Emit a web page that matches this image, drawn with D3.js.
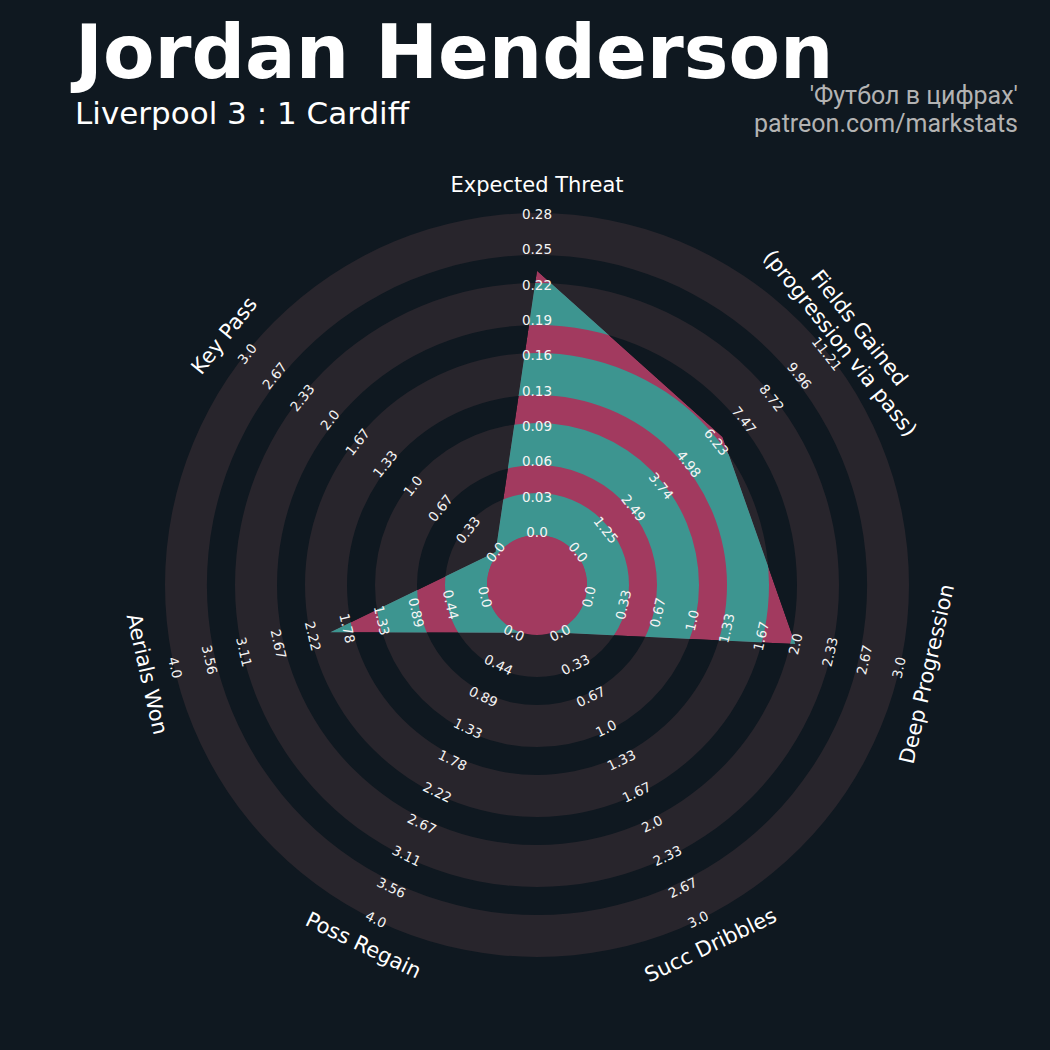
<!DOCTYPE html>
<html><head><meta charset="utf-8">
<script src="https://cdn.jsdelivr.net/npm/d3@7/dist/d3.min.js"></script>
<style>html,body{margin:0;padding:0;background:#0f1820;}</style>
</head><body><svg id="c" width="1050" height="1050"></svg>
<script>
// ---- data ----
const params = ["Expected Threat", "Fields Gained\n(progression via pass)", "Deep Progression", "Succ Dribbles", "Poss Regain", "Aerials Won", "Key Pass"];
const minRange = [0, 0, 0, 0, 0, 0, 0];
const maxRange = [0.28, 11.21, 3.0, 3.0, 4.0, 4.0, 3.0];
const values = [0.23, 6.5, 2.0, 0.0, 0.0, 2.0, 0.0];
const tickLabels = [
  ["0.0","0.03","0.06","0.09","0.13","0.16","0.19","0.22","0.25","0.28"],
  ["0.0","1.25","2.49","3.74","4.98","6.23","7.47","8.72","9.96","11.21"],
  ["0.0","0.33","0.67","1.0","1.33","1.67","2.0","2.33","2.67","3.0"],
  ["0.0","0.33","0.67","1.0","1.33","1.67","2.0","2.33","2.67","3.0"],
  ["0.0","0.44","0.89","1.33","1.78","2.22","2.67","3.11","3.56","4.0"],
  ["0.0","0.44","0.89","1.33","1.78","2.22","2.67","3.11","3.56","4.0"],
  ["0.0","0.33","0.67","1.0","1.33","1.67","2.0","2.33","2.67","3.0"]
];
const title = "Jordan Henderson";
const subtitle = "Liverpool 3 : 1 Cardiff";
const title2 = "'Футбол в цифрах'";
const subtitle2 = "patreon.com/markstats";

// ---- style ----
const BG = "#0f1820", RING = "#28252c", TEAL = "#3d9590", PINK = "#a23a5f";
const cx = 537, cy = 585;
const centerR = 50, ringW = 42, ringStep = 70, nRings = 5;
const r0 = 53, r1 = 371, labelR = 400;

const svg = d3.select("#c");
svg.append("rect").attr("width", 1050).attr("height", 1050).attr("fill", BG);
const g = svg.append("g").attr("transform", `translate(${cx},${cy})`);

const n = params.length;
const angle = d3.scaleLinear().domain([0, n]).range([0, 2 * Math.PI]);
const tickR = d3.scaleLinear().domain([0, 9]).range([r0, r1]);
const radial = params.map((p, i) => d3.scaleLinear().domain([minRange[i], maxRange[i]]).range([r0, r1]));

const rings = d3.range(nRings).map(k => [centerR + k * ringStep, centerR + k * ringStep + ringW]);
const arc = d3.arc().startAngle(0).endAngle(2 * Math.PI);

// outer rings
g.selectAll("path.ring").data(rings).join("path").attr("class", "ring")
  .attr("d", d => arc({innerRadius: d[0], outerRadius: d[1]})).attr("fill", RING);

// polygon
const line = d3.lineRadial().angle((d, i) => angle(i)).radius((d, i) => radial[i](d)).curve(d3.curveLinearClosed);
svg.append("defs").append("clipPath").attr("id", "poly").append("path").attr("d", line(values));
const pg = g.append("g").attr("clip-path", "url(#poly)");
pg.append("path").attr("d", line(values)).attr("fill", PINK);
pg.selectAll("path.tring").data(rings).join("path").attr("class", "tring")
  .attr("d", d => arc({innerRadius: d[0], outerRadius: d[1]})).attr("fill", TEAL);
g.append("circle").attr("r", centerR).attr("fill", PINK);

function rotFor(i) {
  let deg = angle(i) * 180 / Math.PI;
  if (deg > 90 && deg < 270) deg -= 180;
  else if (deg >= 270) deg -= 360;
  return deg;
}
function pos(i, r) {
  const a = angle(i);
  return [r * Math.sin(a), -r * Math.cos(a)];
}

// tick labels
params.forEach((p, i) => {
  const rot = rotFor(i);
  tickLabels[i].forEach((t, k) => {
    const [x, y] = pos(i, tickR(k));
    g.append("text").attr("transform", `translate(${x},${y}) rotate(${rot})`)
      .attr("text-anchor", "middle").attr("dominant-baseline", "central")
      .attr("font-family", "DejaVu Sans").attr("font-size", 13.5).attr("fill", "#f4f4f4").text(t);
  });
});

// param labels
params.forEach((p, i) => {
  const rot = rotFor(i);
  const [x, y] = pos(i, labelR);
  const lines = p.split("\n");
  const lh = 24.5;
  const t = g.append("text").attr("transform", `translate(${x},${y}) rotate(${rot})`)
    .attr("text-anchor", "middle").attr("dominant-baseline", "central")
    .attr("font-family", "DejaVu Sans").attr("font-size", 21).attr("fill", "#ffffff");
  lines.forEach((l, j) => {
    t.append("tspan").attr("x", 0).attr("y", (j - (lines.length - 1) / 2) * lh).text(l);
  });
});

// titles
svg.append("text").attr("x", 75).attr("y", 78).attr("font-family", "DejaVu Sans").attr("font-weight", "bold")
  .attr("font-size", 75).attr("fill", "#ffffff").text(title);
svg.append("text").attr("x", 75).attr("y", 123.5).attr("font-family", "DejaVu Sans")
  .attr("font-size", 31).attr("fill", "#ffffff").text(subtitle);
svg.append("text").attr("x", 1018).attr("y", 104).attr("text-anchor", "end").attr("font-family", "Roboto")
  .attr("font-size", 25).attr("fill", "#b3b3b3").text(title2);
svg.append("text").attr("x", 1018).attr("y", 132).attr("text-anchor", "end").attr("font-family", "Roboto")
  .attr("font-size", 25).attr("fill", "#b3b3b3").text(subtitle2);
</script></body></html>
